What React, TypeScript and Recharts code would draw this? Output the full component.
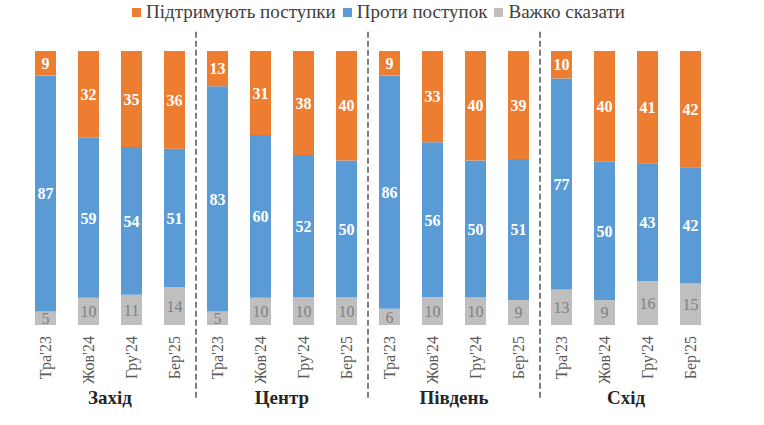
import React from 'react'
import { BarChart, Bar, XAxis, YAxis, LabelList, ReferenceLine } from 'recharts'

const regions = ['Захід', 'Центр', 'Південь', 'Схід']
const months = ["Тра'23", "Жов'24", "Гру'24", "Бер'25"]

// order: region by region, month by month
const support = [9, 32, 35, 36, 13, 31, 38, 40, 9, 33, 40, 39, 10, 40, 41, 42]
const against = [87, 59, 54, 51, 83, 60, 52, 50, 86, 56, 50, 51, 77, 50, 43, 42]
const hard = [5, 10, 11, 14, 5, 10, 10, 10, 6, 10, 10, 9, 13, 9, 16, 15]

const ORANGE = '#ED7D31'
const BLUE = '#5B9BD5'
const GRAY = '#BFBFBF'
const FONT = 'Liberation Serif, DejaVu Serif, serif'

const data = support.map((s, i) => {
  const region = regions[Math.floor(i / 4)]
  const month = months[i % 4]
  return { id: `${region} ${month}`, region, month, support: s, against: against[i], hard: hard[i] }
})

// last bar of every group except the final one gets a separator after it
const separators = data.filter((_, i) => i % 4 === 3 && i < data.length - 1).map((d) => d.id)

const legendItems = [
  { name: 'Підтримують поступки', color: ORANGE },
  { name: 'Проти поступок', color: BLUE },
  { name: 'Важко сказати', color: GRAY }
]

function MonthTick({ x, y, payload }: any) {
  const label = data.find((d) => d.id === payload.value)?.month ?? ''
  return (
    <text
      x={x}
      y={y}
      transform={`rotate(-90 ${x} ${y})`}
      dx={-3}
      dy={5}
      textAnchor="end"
      fill="#595959"
      fontSize={16}
      style={{ fontFamily: FONT }}
    >
      {label}
    </text>
  )
}

function RegionTick({ x, y, payload }: any) {
  return (
    <text x={x} y={y} dy={9} textAnchor="middle" fill="#262626" fontSize={19} fontWeight="bold" style={{ fontFamily: FONT }}>
      {payload.value}
    </text>
  )
}

function TopLegend() {
  return (
    <div style={{ display: 'flex', gap: 7, fontFamily: FONT, fontSize: 19, color: '#404040', paddingLeft: 132 }}>
      {legendItems.map((it) => (
        <span key={it.name} style={{ display: 'flex', alignItems: 'center' }}>
          <span style={{ width: 9, height: 9, background: it.color, display: 'inline-block', marginRight: 5 }} />
          {it.name}
        </span>
      ))}
    </div>
  )
}

export default function App() {
  return (
    <div style={{ position: 'absolute', left: 0, top: 0, width: 764, height: 425, background: '#fff' }}>
      <div style={{ position: 'absolute', left: 0, top: 1, width: 764 }}>
        <TopLegend />
      </div>
      <BarChart
        width={764}
        height={425}
        data={data}
        stackOffset="expand"
        barCategoryGap={11}
        margin={{ top: 51, right: 52, left: 24, bottom: 0 }}
        style={{ fontFamily: FONT }}
      >
        <XAxis xAxisId="month" dataKey="id" axisLine={false} tickLine={false} height={62} interval={0} tick={<MonthTick />} />
        <XAxis
          xAxisId="region"
          dataKey="region"
          allowDuplicatedCategory={false}
          axisLine={false}
          tickLine={false}
          height={38}
          interval={0}
          tick={<RegionTick />}
        />
        <YAxis hide domain={[0, 1]} />
        <Bar xAxisId="month" dataKey="hard" stackId="a" fill={GRAY} isAnimationActive={false}>
          <LabelList dataKey="hard" position="center" fill="#7F7F7F" fontSize={16} style={{ fontFamily: FONT }} />
        </Bar>
        <Bar xAxisId="month" dataKey="against" stackId="a" fill={BLUE} isAnimationActive={false}>
          <LabelList dataKey="against" position="center" fill="#fff" fontSize={16} fontWeight="bold" style={{ fontFamily: FONT }} />
        </Bar>
        <Bar xAxisId="month" dataKey="support" stackId="a" fill={ORANGE} isAnimationActive={false}>
          <LabelList dataKey="support" position="center" fill="#fff" fontSize={16} fontWeight="bold" style={{ fontFamily: FONT }} />
        </Bar>
        {separators.map((id) => (
          <ReferenceLine
            key={id}
            xAxisId="month"
            position="end"
            ifOverflow="visible"
            segment={[
              { x: id, y: 1.07 },
              { x: id, y: -0.27 }
            ]}
            stroke="#7F7F7F"
            strokeWidth={2}
            strokeDasharray="6 3"
          />
        ))}
      </BarChart>
    </div>
  )
}
